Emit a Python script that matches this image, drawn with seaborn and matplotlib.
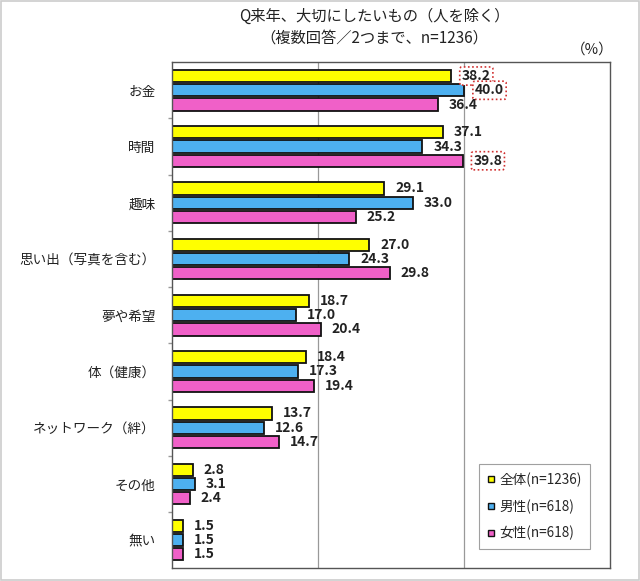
import matplotlib
matplotlib.use("Agg")
import matplotlib.pyplot as plt
import seaborn as sns
import pandas as pd
import numpy as np
from matplotlib.patches import Rectangle
from matplotlib.lines import Line2D

categories = ["お金", "時間", "趣味", "思い出(写真を含む)", "夢や希望", "体(健康)", "ネットワーク(絆)", "その他", "無い"]
series = ["全体(n=1236)", "男性(n=618)", "女性(n=618)"]
total = [38.2, 37.1, 29.1, 27.0, 18.7, 18.4, 13.7, 2.8, 1.5]
male = [40.0, 34.3, 33.0, 24.3, 17.0, 17.3, 12.6, 3.1, 1.5]
female = [36.4, 39.8, 25.2, 29.8, 20.4, 19.4, 14.7, 2.4, 1.5]
highlight = {("お金", 0), ("お金", 1), ("時間", 2)}

cat_labels = ["お金", "時間", "趣味", "思い出（写真を含む）", "夢や希望", "体（健康）", "ネットワーク（絆）", "その他", "無い"]

colors = ["#FFFF00", "#4DB0F0", "#F060C8"]

sns.set_theme(style="white")
plt.rcParams['font.family'] = ['Noto Sans CJK JP', 'DejaVu Sans']

rows = []
for i, c in enumerate(categories):
    for s, vals in zip(series, [total, male, female]):
        rows.append({"cat": c, "series": s, "value": vals[i]})
df = pd.DataFrame(rows)

fig = plt.figure(figsize=(6.4, 5.81), dpi=100)
fig.patches.append(Rectangle((0.002, 0.002), 0.996, 0.996, transform=fig.transFigure,
                             fill=False, edgecolor="#cccccc", linewidth=1.2))
ax = fig.add_axes([0.269, 0.022, 0.684, 0.871])

sns.barplot(data=df, y="cat", x="value", hue="series", order=categories, hue_order=series,
            palette=colors, saturation=1, orient="h", width=0.76, gap=0.14, edgecolor="#111111",
            linewidth=1.3, ax=ax, legend=False)

ax.set_xlim(0, 60)
ax.set_ylim(len(categories) - 0.5, -0.5)
ax.set_xticks([0, 20, 40, 60])
ax.set_xticklabels([])
ax.tick_params(axis="x", length=0)
ax.grid(False)
for gx in [20, 40]:
    ax.axvline(gx, color="#999999", linewidth=0.9, zorder=0)
ax.set_xlabel("")
ax.set_ylabel("")
ax.set_yticks(range(len(categories)))
ax.set_yticklabels(cat_labels, fontsize=9.8)
ax.tick_params(axis="y", length=0, pad=12, colors="#222222")
ax.set_yticks(np.arange(0.5, len(categories) - 0.5, 1), minor=True)
ax.tick_params(axis="y", which="minor", length=3, color="#999999", left=True)
for sp in ax.spines.values():
    sp.set_color("#555555")
    sp.set_linewidth(1.0)

slot = 0.76 / 3
for si, vals in enumerate([total, male, female]):
    for i, v in enumerate(vals):
        y = i - 0.76 / 2 + slot * (si + 0.5)
        hl = (categories[i], si) in highlight
        kw = {}
        if hl:
            kw["bbox"] = dict(boxstyle="round,pad=0.15", fc="white", ec="#d03030", ls=(0, (1, 1.5)), lw=1.2)
        ax.text(v + 1.5, y, f"{v:.1f}", va="center", ha="left", fontsize=10, fontweight="bold",
                color="#222222", **kw)

fig.text(0.585, 0.972, "Q来年、大切にしたいもの（人を除く）", ha="center", va="center", fontsize=11, color="#222222")
fig.text(0.585, 0.935, "（複数回答／2つまで、n=1236）", ha="center", va="center", fontsize=11, color="#222222")
fig.text(0.925, 0.915, "（%）", ha="center", va="center", fontsize=10.5, color="#222222")

handles = [Line2D([0], [0], marker="s", linestyle="", markerfacecolor=c, markeredgecolor="#111111",
                  markersize=5, markeredgewidth=1.0) for c in colors]
leg = ax.legend(handles, series, loc="lower right", bbox_to_anchor=(0.97, 0.025), frameon=True,
                fancybox=False, fontsize=9.8, handlelength=0.6, handletextpad=0.3, labelspacing=0.9,
                borderpad=0.6)
leg.get_frame().set_edgecolor("#888888")
leg.get_frame().set_linewidth(0.8)

fig.savefig("out.png", dpi=100)
